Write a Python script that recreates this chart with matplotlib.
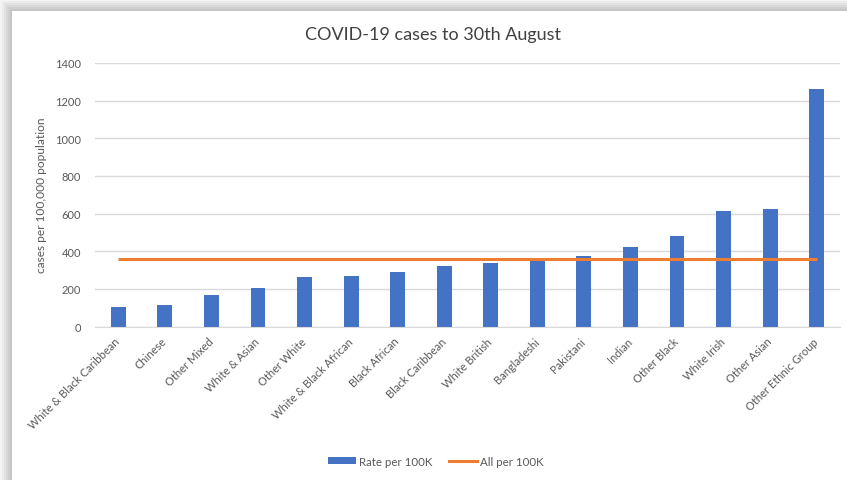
import matplotlib
matplotlib.use("Agg")
import matplotlib.pyplot as plt
from matplotlib.patches import Rectangle
from matplotlib.lines import Line2D

plt.rcParams['font.family'] = ['Lato', 'DejaVu Sans']

groups = ['White & Black Caribbean', 'Chinese', 'Other Mixed', 'White & Asian',
          'Other White', 'White & Black African', 'Black African', 'Black Caribbean',
          'White British', 'Bangladeshi', 'Pakistani', 'Indian', 'Other Black',
          'White Irish', 'Other Asian', 'Other Ethnic Group']
rate_per_100k = [105, 113, 166, 206, 263, 270, 291, 323,
                 339, 350, 377, 424, 483, 614, 626, 1261]
all_per_100k = [358] * len(groups)

W, H = 847, 481
fig = plt.figure(figsize=(W / 100, H / 100), dpi=100)
fig.patch.set_facecolor('white')

# drop shadow round the chart area (left and top edges)
shades = ['#f4f4f4', '#ececec', '#e2e2e2', '#d8d8d8', '#cfcfcf', '#c6c6c6']
for i, c in enumerate(shades):
    off = i * 2
    fig.add_artist(Rectangle((off / W, 0), 1, (H - off) / H,
                             transform=fig.transFigure, facecolor=c,
                             edgecolor='none', zorder=0))
fig.add_artist(Rectangle((12 / W, 0), 1, (H - 12) / H,
                         transform=fig.transFigure, facecolor='white',
                         edgecolor='none', zorder=0))

ax = fig.add_axes([95 / W, (H - 327.7) / H, 745 / W, 263.9 / H])
ax.set_facecolor('none')
x = range(len(groups))
ax.bar(x, rate_per_100k, width=0.32, color='#4472C4', zorder=2)
ax.plot(x, all_per_100k, color='#ED7D31', linewidth=2.2, zorder=3,
        solid_capstyle='butt')

ax.set_xlim(-0.5, len(groups) - 0.5)
ax.set_ylim(0, 1400)
ax.set_yticks(range(0, 1401, 200))
ax.grid(axis='y', color='#d9d9d9', linewidth=1, zorder=0)
ax.set_axisbelow(True)
for s in ['top', 'right', 'left']:
    ax.spines[s].set_visible(False)
ax.spines['bottom'].set_color('#d9d9d9')
ax.tick_params(axis='both', length=0, colors='#595959', labelsize=8)
ax.tick_params(axis='y', pad=10)
ax.set_xticks(list(x))
ax.set_xticklabels(groups, rotation=45, ha='right', va='center',
                   rotation_mode='anchor')
ax.tick_params(axis='x', pad=9)

ax.set_ylabel('cases per 100,000 population', fontsize=8.6, color='#595959',
              labelpad=6)
fig.text(433 / W, 1 - 35 / H, 'COVID-19 cases to 30th August', ha='center',
         va='center', fontsize=13, color='#404040')

handles = [Rectangle((0, 0), 1, 1, facecolor='#4472C4'),
           Line2D([0], [0], color='#ED7D31', linewidth=2.2)]
fig.legend(handles, ['Rate per 100K', 'All per 100K'], loc='center',
           bbox_to_anchor=(436 / W, 1 - 462 / H), ncol=2, frameon=False,
           fontsize=8.3, labelcolor='#595959', handlelength=2.4,
           handleheight=0.6, columnspacing=1.4, handletextpad=0.3)

fig.savefig('out.png', dpi=100, facecolor=fig.get_facecolor())
